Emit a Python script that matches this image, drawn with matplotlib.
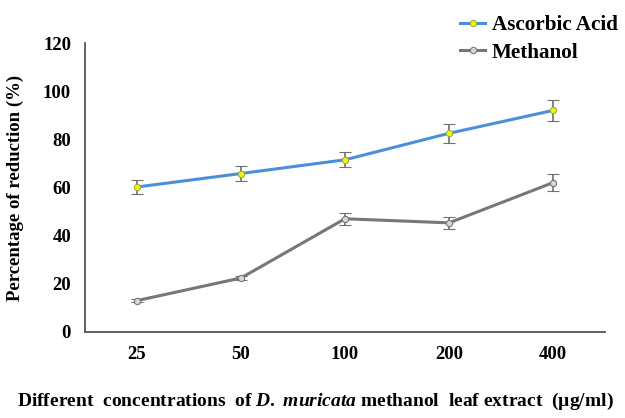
import matplotlib.pyplot as plt
from matplotlib.lines import Line2D
import numpy as np

concentrations = ['25', '50', '100', '200', '400']
ascorbic = [60.2, 65.8, 71.5, 82.5, 92.0]
ascorbic_err = [3.0, 3.2, 3.2, 4.0, 4.5]
methanol = [13.0, 22.4, 47.0, 45.3, 62.0]
methanol_err = [0.6, 1.0, 2.5, 2.5, 3.5]
yticks = [0, 20, 40, 60, 80, 100, 120]

plt.rcParams['font.family'] = 'Liberation Serif'
plt.rcParams['font.weight'] = 'bold'
plt.rcParams['mathtext.fontset'] = 'custom'
plt.rcParams['mathtext.it'] = 'Liberation Serif:italic:bold'
plt.rcParams['mathtext.rm'] = 'Liberation Serif:bold'

fig = plt.figure(figsize=(6.25, 4.18), dpi=100)
ax = fig.add_axes([0.136, 0.206, 0.832, 0.691])

x = np.arange(len(concentrations))
blue_style = dict(color='#4a90d9', lw=2.2, marker='o', ms=4.5, mfc='#f5f500',
                  mec='#9ab04a', mew=0.8)
grey_style = dict(color='#777777', lw=2.2, marker='o', ms=4.5, mfc='#d8d8d8',
                  mec='#777777', mew=0.8)
ax.errorbar(x, ascorbic, yerr=ascorbic_err, ecolor='#707070', elinewidth=1.2,
            capsize=4, capthick=1.2, **blue_style)
ax.errorbar(x, methanol, yerr=methanol_err, ecolor='#707070', elinewidth=1.2,
            capsize=4, capthick=1.2, **grey_style)

ax.set_xlim(-0.5, 4.5)
ax.set_ylim(0, 120)
ax.set_xticks(x)
ax.set_xticklabels(concentrations)
ax.set_yticks(yticks)
ax.tick_params(length=0, labelsize=13.5, pad=10)
for lab in ax.get_xticklabels() + ax.get_yticklabels():
    lab.set_fontweight('bold')
ax.spines['top'].set_visible(False)
ax.spines['right'].set_visible(False)
for s in ['left', 'bottom']:
    ax.spines[s].set_color('#555555')
    ax.spines[s].set_linewidth(1.3)

ax.set_ylabel('Percentage of reduction (%)', fontsize=13.5, fontweight='bold', labelpad=14)
fig.text(0.505, 0.03,
         r'Different  concentrations  of $\mathit{D.\ muricata}$ methanol  leaf extract  (µg/ml)',
         ha='center', fontsize=14, fontweight='bold')

handles = [Line2D([], [], **blue_style), Line2D([], [], **grey_style)]
leg = ax.legend(handles, ['Ascorbic Acid', 'Methanol'], loc='upper left',
                bbox_to_anchor=(0.705, 1.125), frameon=False, fontsize=15.2,
                handlelength=1.2, handletextpad=0.3, borderaxespad=0,
                labelspacing=0.35)
for t in leg.get_texts():
    t.set_fontweight('bold')

fig.savefig('out.png', dpi=100)
